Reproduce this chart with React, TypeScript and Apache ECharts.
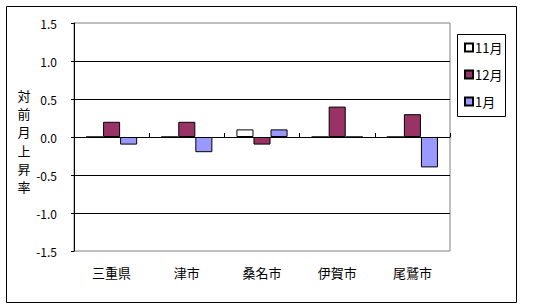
import React, { useEffect, useRef } from "react";
import * as echarts from "echarts";

const categories = ["三重県", "津市", "桑名市", "伊賀市", "尾鷲市"];
const seriesNames = ["11月", "12月", "1月"];
const nov = [0, 0, 0.1, 0, 0];
const dec = [0.2, 0.2, -0.1, 0.4, 0.3];
const jan = [-0.1, -0.2, 0.1, 0, -0.4];
const colors = ["#FFFFFF", "#993366", "#9999FF"];
const yName = "対前月上昇率";

const FONT = "'Noto Sans CJK JP', 'Noto Sans', sans-serif";

export default function App() {
  const ref = useRef<HTMLDivElement>(null);
  useEffect(() => {
    if (!ref.current) return;
    const chart = echarts.init(ref.current, undefined, { renderer: "svg" });
    const data = [nov, dec, jan];
    chart.setOption({
      animation: false,
      backgroundColor: "#FFFFFF",
      textStyle: { fontFamily: FONT, color: "#000" },
      grid: {
        left: 74,
        top: 23,
        width: 376,
        height: 228,
        show: true,
        borderColor: "#808080",
        borderWidth: 1,
        backgroundColor: "transparent",
      },
      legend: {
        orient: "vertical",
        left: 464,
        top: 41,
        padding: 0,
        itemWidth: 8,
        itemHeight: 8,
        itemGap: 14,
        icon: "rect",
        data: seriesNames,
        textStyle: { fontFamily: FONT, fontSize: 13, color: "#000", padding: [0, 0, 0, -3] },
      },
      graphic: [
        {
          type: "rect",
          shape: { x: 6.5, y: 6.5, width: 510, height: 296 },
          style: { fill: "none", stroke: "#000", lineWidth: 1 },
          silent: true,
        },
        {
          type: "rect",
          shape: { x: 457.5, y: 34.5, width: 48, height: 82 },
          style: { fill: "none", stroke: "#000", lineWidth: 1 },
          silent: true,
        },
        {
          type: "text",
          x: 24,
          y: 86,
          style: {
            text: yName.split("").join("\n"),
            font: `13px ${FONT}`,
            fill: "#000",
            textAlign: "center",
            lineHeight: 18.3,
          },
        },
      ],
      xAxis: [
        {
          type: "category",
          data: categories,
          axisLine: { onZero: true, lineStyle: { color: "#000", width: 1 } },
          axisTick: { show: true, inside: true, length: 4, lineStyle: { color: "#000" } },
          axisLabel: { show: false },
        },
        {
          type: "category",
          data: categories,
          position: "bottom",
          axisLine: { show: false, onZero: false },
          axisTick: { show: false },
          axisLabel: { show: true, margin: 15, fontSize: 13, color: "#000", fontFamily: FONT },
        },
      ],
      yAxis: {
        type: "value",
        min: -1.5,
        max: 1.5,
        interval: 0.5,
        axisLine: { show: true, lineStyle: { color: "#000", width: 1 } },
        axisTick: { show: true, length: 3, lineStyle: { color: "#000" } },
        axisLabel: {
          margin: 17,
          fontSize: 12,
          color: "#000",
          fontFamily: FONT,
          formatter: (v: number) => v.toFixed(1),
        },
        splitLine: {
          show: true,
          showMinLine: false,
          showMaxLine: false,
          lineStyle: { color: "#000", width: 1 },
        },
      },
      series: seriesNames.map((name, i) => ({
        name,
        type: "bar",
        xAxisIndex: 0,
        data: data[i],
        barGap: "0%",
        barCategoryGap: "32%",
        itemStyle: { color: colors[i], borderColor: "#000", borderWidth: 1 },
      })),
    });
    return () => chart.dispose();
  }, []);
  return (
    <div
      ref={ref}
      style={{ position: "absolute", left: 0, top: 0, width: 548, height: 307 }}
    />
  );
}
